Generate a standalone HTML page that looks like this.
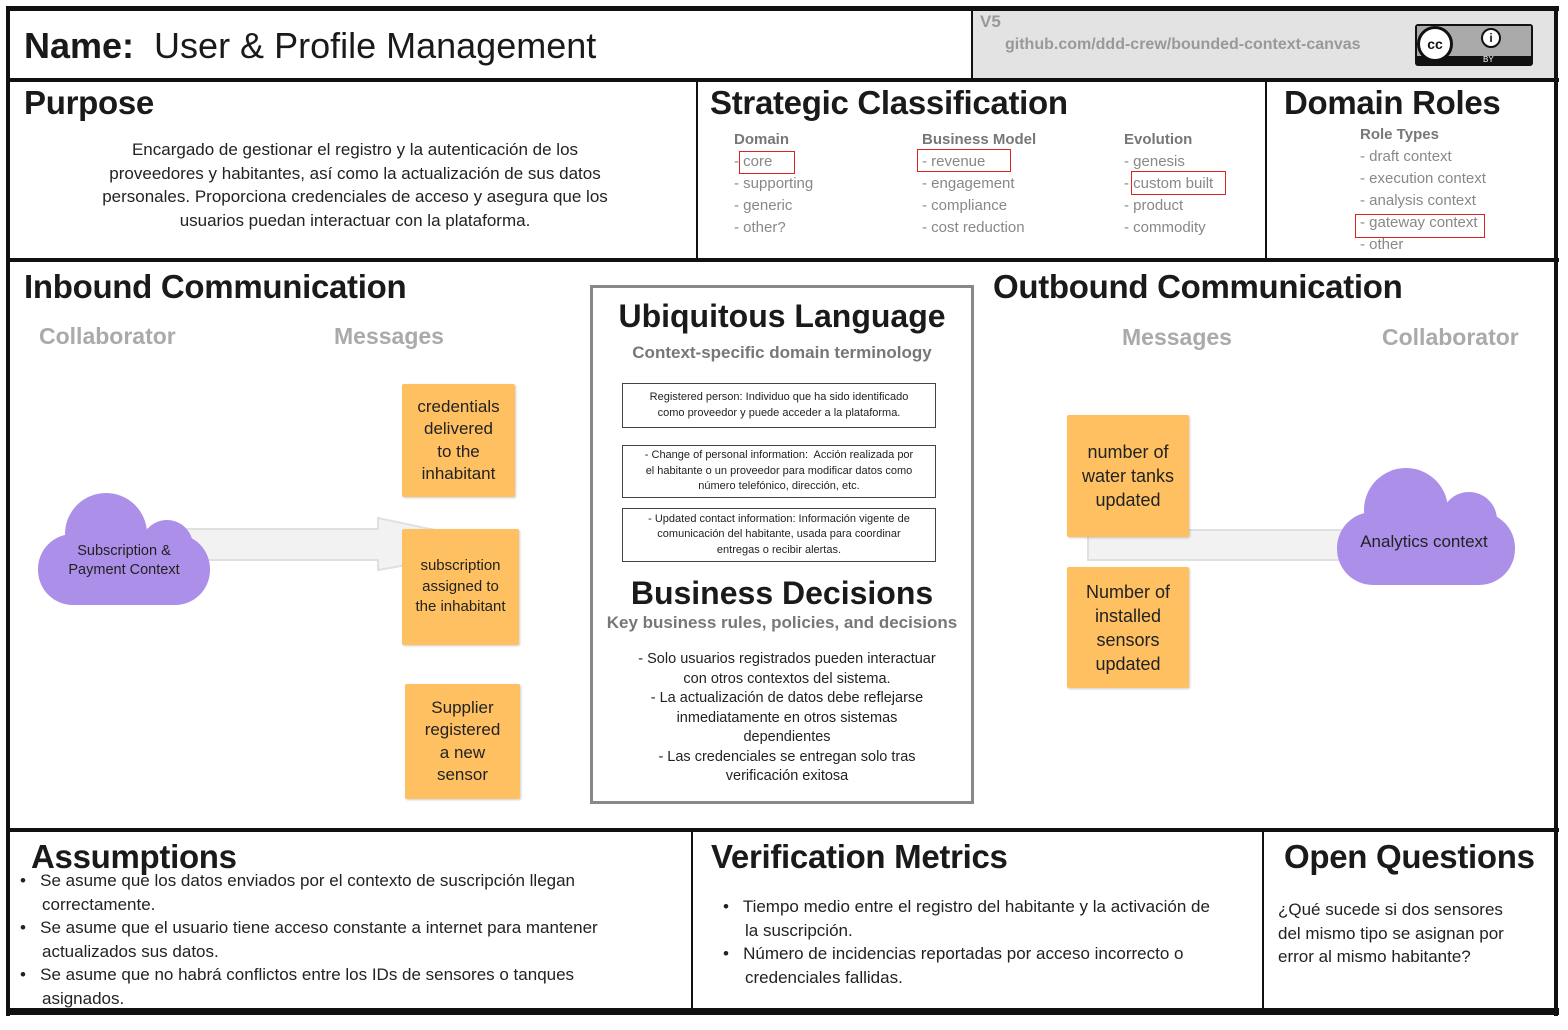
<!DOCTYPE html>
<html><head><meta charset="utf-8"><style>
*{margin:0;padding:0;box-sizing:border-box}
body{width:1568px;height:1030px;background:#fff;position:relative;overflow:hidden;font-family:"Liberation Sans","DejaVu Sans",sans-serif;color:#111}
.a{position:absolute}
.b{position:absolute;background:#111}
.h{position:absolute;font-weight:bold;font-size:33px;color:#1a1a1a;white-space:nowrap;letter-spacing:-0.3px}
.g{position:absolute;color:#888;font-size:15px;line-height:22px;white-space:nowrap}
.gh{font-weight:bold;color:#777}
.rb{position:absolute;border:1.5px solid #d22}
.st{position:absolute;background:#fec060;box-shadow:1px 1px 2px rgba(0,0,0,.2);border-radius:2px;display:flex;align-items:center;justify-content:center;text-align:center;font-size:17px;line-height:22.5px;color:#222}
.gl{position:absolute;border:1.5px solid #444;font-size:11px;line-height:15.5px;text-align:center;display:flex;align-items:center;justify-content:center;color:#222;padding:0 4px}
.col{position:absolute;font-weight:bold;font-size:23px;color:#aaa}
</style></head><body>
<div class="a" style="left:973px;top:10px;width:584px;height:70px;background:#e3e3e3"></div>
<div class="b" style="left:6px;top:6px;width:1553px;height:5px"></div>
<div class="b" style="left:6px;top:6px;width:4px;height:1010px"></div>
<div class="b" style="left:1554px;top:6px;width:4px;height:1010px"></div>
<div class="b" style="left:6px;top:1008px;width:1553px;height:7px"></div>
<div class="b" style="left:6px;top:78px;width:1553px;height:4px"></div>
<div class="b" style="left:971px;top:8px;width:2px;height:72px"></div>
<div class="b" style="left:6px;top:258px;width:1553px;height:4px"></div>
<div class="b" style="left:696px;top:80px;width:2px;height:180px"></div>
<div class="b" style="left:1265px;top:80px;width:2px;height:180px"></div>
<div class="b" style="left:6px;top:828px;width:1553px;height:4px"></div>
<div class="b" style="left:691px;top:830px;width:2px;height:180px"></div>
<div class="b" style="left:1262px;top:830px;width:2px;height:180px"></div>

<div class="a" style="left:24px;top:25px;font-size:36px;white-space:nowrap;color:#1a1a1a"><b>Name:</b>&nbsp; User &amp; Profile Management</div>
<div class="a" style="left:980px;top:12px;font-size:17px;font-weight:bold;color:#999">V5</div>
<div class="a" style="left:1005px;top:36px;font-size:16px;font-weight:bold;color:#999">github.com/ddd-crew/bounded-context-canvas</div>
<div class="a" style="left:1415px;top:24px;width:118px;height:42px;background:#111;border-radius:3px">
 <div class="a" style="left:2px;top:2px;width:114px;height:30px;background:#aaa"></div>
 <div class="a" style="left:2px;top:2px;width:36px;height:36px;border-radius:50%;background:#fff;border:3px solid #111;font-size:14px;font-weight:bold;text-align:center;line-height:30px">cc</div>
 <div class="a" style="left:66px;top:4px;width:20px;height:20px;border-radius:50%;background:#fff;border:2px solid #111;font-size:12px;font-weight:bold;text-align:center;line-height:16px">i</div>
 <div class="a" style="left:68px;top:31px;font-size:8px;color:#fff">BY</div>
</div>

<div class="h" style="left:24px;top:84px">Purpose</div>
<div class="a" style="left:85px;top:138px;width:540px;text-align:center;font-size:17px;line-height:23.5px;color:#222">Encargado de gestionar el registro y la autenticación de los proveedores y habitantes, así como la actualización de sus datos personales. Proporciona credenciales de acceso y asegura que los usuarios puedan interactuar con la plataforma.</div>

<div class="h" style="left:710px;top:84px">Strategic Classification</div>
<div class="g" style="left:734px;top:129px"><span class="gh">Domain</span><br>-&nbsp;core<br>- supporting<br>- generic<br>- other?</div>
<div class="rb" style="left:739px;top:151px;width:56px;height:23px"></div>
<div class="g" style="left:922px;top:129px"><span class="gh">Business Model</span><br>- revenue<br>- engagement<br>- compliance<br>- cost reduction</div>
<div class="rb" style="left:917px;top:149px;width:94px;height:23px"></div>
<div class="g" style="left:1124px;top:129px"><span class="gh">Evolution</span><br>- genesis<br>- custom built<br>- product<br>- commodity</div>
<div class="rb" style="left:1131px;top:171px;width:95px;height:24px"></div>

<div class="h" style="left:1284px;top:84px">Domain Roles</div>
<div class="g" style="left:1360px;top:124px"><span class="gh">Role Types</span><br>- draft context<br>- execution context<br>- analysis context<br>- gateway context<br>- other</div>
<div class="rb" style="left:1355px;top:214px;width:130px;height:24px"></div>

<div class="h" style="left:24px;top:268px">Inbound Communication</div>
<div class="col" style="left:39px;top:323px">Collaborator</div>
<div class="col" style="left:334px;top:323px">Messages</div>
<div class="h" style="left:993px;top:268px">Outbound Communication</div>
<div class="col" style="left:1122px;top:324px">Messages</div>
<div class="col" style="left:1382px;top:324px">Collaborator</div>

<svg class="a" style="left:0;top:0" width="1568" height="1030">
 <polygon points="120,529 378,529 378,518 435,530 435,560 378,570 378,560 120,560" fill="#f2f2f2" stroke="#e0e0e0" stroke-width="2"/>
 <rect x="1088" y="530" width="300" height="30" fill="#f2f2f2" stroke="#e0e0e0" stroke-width="2"/>
 <g fill="#ab8fe9">
  <circle cx="106" cy="534" r="41"/><circle cx="167" cy="546" r="26"/>
  <rect x="38" y="534" width="172" height="71" rx="35"/>
  <circle cx="1406" cy="510" r="42"/><circle cx="1469" cy="520" r="28"/>
  <rect x="1337" y="512" width="178" height="73" rx="36"/>
 </g>
</svg>
<div class="a" style="left:40px;top:542px;width:168px;text-align:center;font-size:14.5px;line-height:19px;color:#222">Subscription &amp;<br>Payment Context</div>
<div class="a" style="left:1340px;top:532px;width:168px;text-align:center;font-size:17px;color:#222">Analytics context</div>

<div class="st" style="left:402px;top:384px;width:113px;height:113px">credentials<br>delivered<br>to the<br>inhabitant</div>
<div class="st" style="left:402px;top:529px;width:117px;height:116px;font-size:15px;line-height:20.5px">subscription<br>assigned to<br>the inhabitant</div>
<div class="st" style="left:405px;top:684px;width:115px;height:115px">Supplier<br>registered<br>a new<br>sensor</div>
<div class="st" style="left:1067px;top:415px;width:122px;height:122px;font-size:18px;line-height:24px">number of<br>water tanks<br>updated</div>
<div class="st" style="left:1067px;top:567px;width:122px;height:121px;font-size:18px;line-height:24px">Number of<br>installed<br>sensors<br>updated</div>

<div class="a" style="left:590px;top:285px;width:384px;height:519px;border:3px solid #888"></div>
<div class="a" style="left:590px;top:298px;width:384px;text-align:center;font-weight:bold;font-size:32px;color:#1a1a1a">Ubiquitous Language</div>
<div class="a" style="left:590px;top:343px;width:384px;text-align:center;font-weight:bold;font-size:17px;color:#777">Context-specific domain terminology</div>
<div class="gl" style="left:622px;top:383px;width:314px;height:45px">Registered person: Individuo que ha sido identificado<br>como proveedor y puede acceder a la plataforma.</div>
<div class="gl" style="left:622px;top:445px;width:314px;height:53px">- Change of personal information:&nbsp; Acción realizada por<br>el habitante o un proveedor para modificar datos como<br>número telefónico, dirección, etc.</div>
<div class="gl" style="left:622px;top:508px;width:314px;height:54px">- Updated contact information: Información vigente de<br>comunicación del habitante, usada para coordinar<br>entregas o recibir alertas.</div>
<div class="a" style="left:590px;top:575px;width:384px;text-align:center;font-weight:bold;font-size:32px;color:#1a1a1a">Business Decisions</div>
<div class="a" style="left:590px;top:613px;width:384px;text-align:center;font-weight:bold;font-size:17px;color:#777">Key business rules, policies, and decisions</div>
<div class="a" style="left:632px;top:650px;width:310px;text-align:center;font-size:14.5px;line-height:19.5px;color:#222">- Solo usuarios registrados pueden interactuar con otros contextos del sistema.<br>- La actualización de datos debe reflejarse inmediatamente en otros sistemas dependientes<br>- Las credenciales se entregan solo tras verificación exitosa</div>

<div class="h" style="left:31px;top:838px">Assumptions</div>
<div class="a" style="left:20px;top:869px;width:630px;font-size:17px;line-height:23.5px;color:#222">
<div style="padding-left:22px;text-indent:-22px">•&nbsp;&nbsp; Se asume que los datos enviados por el contexto de suscripción llegan correctamente.</div>
<div style="padding-left:22px;text-indent:-22px">•&nbsp;&nbsp; Se asume que el usuario tiene acceso constante a internet para mantener actualizados sus datos.</div>
<div style="padding-left:22px;text-indent:-22px">•&nbsp;&nbsp; Se asume que no habrá conflictos entre los IDs de sensores o tanques asignados.</div>
</div>
<div class="h" style="left:711px;top:838px">Verification Metrics</div>
<div class="a" style="left:723px;top:895px;width:490px;font-size:17px;line-height:23.5px;color:#222">
<div style="padding-left:22px;text-indent:-22px">•&nbsp;&nbsp; Tiempo medio entre el registro del habitante y la activación de la suscripción.</div>
<div style="padding-left:22px;text-indent:-22px">•&nbsp;&nbsp; Número de incidencias reportadas por acceso incorrecto o credenciales fallidas.</div>
</div>
<div class="h" style="left:1284px;top:838px">Open Questions</div>
<div class="a" style="left:1278px;top:898px;width:250px;font-size:17px;line-height:23.5px;color:#222">¿Qué sucede si dos sensores del mismo tipo se asignan por error al mismo habitante?</div>
</body></html>
